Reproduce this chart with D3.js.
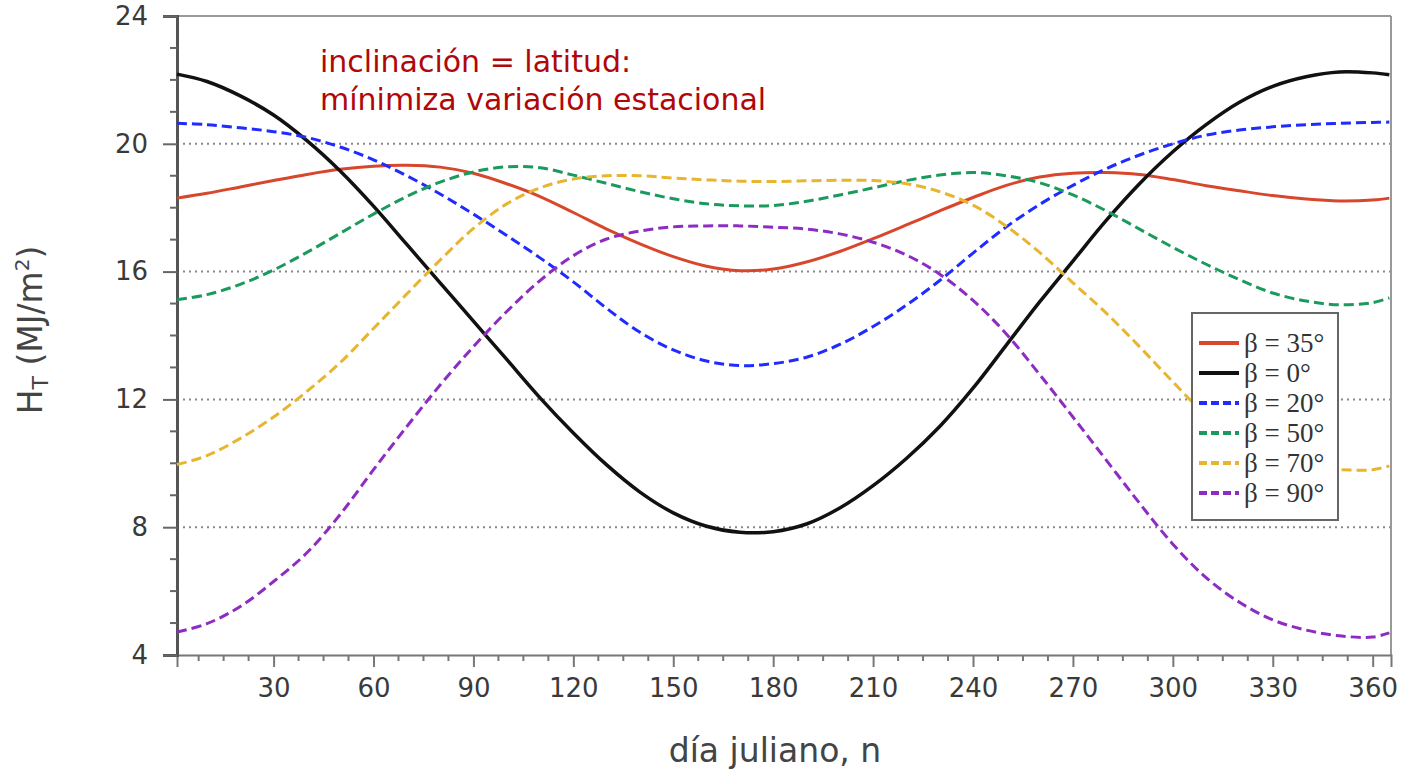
<!DOCTYPE html>
<html>
<head>
    <meta charset="utf-8">
    <title></title>
    <script src="https://d3js.org/d3.v7.min.js"></script>
    <style>
        body { margin: 0; background: #fff; }
        .tick-label { font-family: "DejaVu Sans", sans-serif; font-size: 26px; fill: #3a3a3a; }
        .axis-title { font-family: "DejaVu Sans", sans-serif; font-size: 33px; fill: #444; }
        .note { font-family: "DejaVu Sans", sans-serif; font-size: 30px; fill: #b00808; }
        .legend-text { font-family: "Liberation Serif", serif; font-size: 27px; fill: #333; }
    </style>
</head>
<body>
<div id="vis"></div>
<script>

    // día juliano
    var days = [1, 10, 20, 30, 40, 50, 60, 70, 80, 90, 100, 110, 120, 130, 140, 150, 160, 170, 180,
        190, 200, 210, 220, 230, 240, 250, 260, 270, 280, 290, 300, 310, 320, 330, 340, 350, 360, 365];

    // H_T (MJ/m2) per tilt
    var beta35 = [18.3, 18.45, 18.65, 18.85, 19.04, 19.2, 19.3, 19.33, 19.27, 19.08, 18.75, 18.35, 17.85,
        17.33, 16.87, 16.47, 16.17, 16.03, 16.08, 16.3, 16.63, 17.03, 17.46, 17.9, 18.32, 18.7, 18.96,
        19.08, 19.1, 19.04, 18.88, 18.69, 18.53, 18.38, 18.27, 18.21, 18.24, 18.3];
    var beta0 = [22.18, 21.95, 21.5, 20.9, 20.1, 19.15, 18.05, 16.85, 15.65, 14.45, 13.25, 12.05, 10.95,
        9.95, 9.1, 8.45, 8.03, 7.84, 7.86, 8.1, 8.6, 9.3, 10.15, 11.15, 12.35, 13.7, 15.05, 16.33, 17.6,
        18.75, 19.75, 20.6, 21.3, 21.8, 22.1, 22.25, 22.22, 22.16];
    var beta20 = [20.64, 20.6, 20.5, 20.38, 20.2, 19.9, 19.5, 19.0, 18.43, 17.8, 17.13, 16.43, 15.68,
        14.85, 14.1, 13.55, 13.2, 13.06, 13.12, 13.32, 13.72, 14.28, 14.95, 15.72, 16.58, 17.4, 18.1,
        18.7, 19.22, 19.65, 20.0, 20.27, 20.43, 20.53, 20.6, 20.64, 20.67, 20.68];
    var beta50 = [15.12, 15.28, 15.6, 16.05, 16.6, 17.2, 17.8, 18.35, 18.8, 19.12, 19.28, 19.25, 19.02,
        18.76, 18.5, 18.28, 18.12, 18.06, 18.07, 18.2, 18.4, 18.62, 18.85, 19.02, 19.1, 19.0, 18.78,
        18.4, 17.9, 17.33, 16.76, 16.23, 15.75, 15.33, 15.08, 14.96, 15.03, 15.18];
    var beta70 = [9.96, 10.24, 10.78, 11.45, 12.25, 13.15, 14.22, 15.3, 16.36, 17.35, 18.12, 18.62, 18.9,
        19.0, 19.0, 18.93, 18.87, 18.83, 18.82, 18.84, 18.86, 18.85, 18.75, 18.5, 18.08, 17.42, 16.6,
        15.65, 14.7, 13.65, 12.55, 11.5, 10.7, 10.15, 9.88, 9.8, 9.8, 9.92];
    var beta90 = [4.72, 4.98, 5.52, 6.3, 7.2, 8.4, 9.8, 11.15, 12.45, 13.65, 14.75, 15.72, 16.5,
        17.02, 17.27, 17.4, 17.43, 17.43, 17.39, 17.33, 17.18, 16.92, 16.52, 15.92, 15.1, 14.05, 12.78,
        11.45, 10.1, 8.75, 7.47, 6.42, 5.65, 5.1, 4.78, 4.6, 4.56, 4.69];

    var seriesNames = ["\u03B2 = 35\u00B0", "\u03B2 = 0\u00B0", "\u03B2 = 20\u00B0", "\u03B2 = 50\u00B0", "\u03B2 = 70\u00B0", "\u03B2 = 90\u00B0"];
    var seriesValues = [beta35, beta0, beta20, beta50, beta70, beta90];
    var seriesColors = ["#d8462b", "#111111", "#1f2bff", "#1a9a5c", "#e8b530", "#8d2cc2"];
    var seriesDashed = [false, false, true, true, true, true];

    var xTicks = [30, 60, 90, 120, 150, 180, 210, 240, 270, 300, 330, 360];
    var yTicks = [4, 8, 12, 16, 20, 24];
    var gridValues = [8, 12, 16, 20];

    var width = 1408, height = 769;
    var plotL = 177, plotR = 1391, plotT = 16, plotB = 655;

    var svg = d3.select("#vis").append("svg")
            .attr("width", width)
            .attr("height", height);

    var x = d3.scaleLinear().domain([1, 365.5]).range([plotL, plotR]);
    var y = d3.scaleLinear().domain([4, 24]).range([plotB, plotT]);

    // grid
    svg.append("g").selectAll("line").data(gridValues).enter().append("line")
            .attr("x1", plotL).attr("x2", plotR)
            .attr("y1", function(d){ return y(d); })
            .attr("y2", function(d){ return y(d); })
            .attr("stroke", "#888").attr("stroke-width", 2)
            .attr("stroke-dasharray", "2,4");

    // frame top / right
    svg.append("line").attr("x1", plotL - 14).attr("x2", plotR).attr("y1", plotT).attr("y2", plotT)
            .attr("stroke", "#999").attr("stroke-width", 2);
    svg.append("line").attr("x1", plotR).attr("x2", plotR).attr("y1", plotT).attr("y2", plotB)
            .attr("stroke", "#999").attr("stroke-width", 2);

    // x axis
    var xAxis = d3.axisBottom(x).tickValues(xTicks).tickSize(12).tickPadding(12);
    var gx = svg.append("g").attr("transform", "translate(0," + plotB + ")").call(xAxis);
    gx.select(".domain").attr("stroke", "#777").attr("stroke-width", 2);
    gx.selectAll(".tick line").attr("stroke", "#777").attr("stroke-width", 2);
    gx.selectAll(".tick text").attr("class", "tick-label").attr("fill", null);

    var xMinor = d3.range(7.5, 366, 7.5).filter(function(d){ return d % 30 !== 0; });
    gx.append("g").selectAll("line").data(xMinor).enter().append("line")
            .attr("x1", function(d){ return x(d); }).attr("x2", function(d){ return x(d); })
            .attr("y1", 0).attr("y2", 6)
            .attr("stroke", "#777").attr("stroke-width", 2);

    // y axis
    var yAxis = d3.axisLeft(y).tickValues(yTicks).tickSize(14).tickPadding(15);
    var gy = svg.append("g").attr("transform", "translate(" + plotL + ",0)").call(yAxis);
    gy.select(".domain").attr("stroke", "#555").attr("stroke-width", 3);
    gy.selectAll(".tick line").attr("stroke", "#666").attr("stroke-width", 2);
    gy.selectAll(".tick text").attr("class", "tick-label").attr("fill", null);

    var yMinor = d3.range(5, 24, 1).filter(function(d){ return d % 4 !== 0; });
    gy.append("g").selectAll("line").data(yMinor).enter().append("line")
            .attr("x1", -7).attr("x2", 0)
            .attr("y1", function(d){ return y(d); }).attr("y2", function(d){ return y(d); })
            .attr("stroke", "#666").attr("stroke-width", 2);

    // curves
    var line = d3.line()
            .x(function(d){ return x(d[0]); })
            .y(function(d){ return y(d[1]); })
            .curve(d3.curveCatmullRom.alpha(0.5));

    var curves = svg.append("g");
    seriesValues.forEach(function(vals, i){
        var pts = days.map(function(d, j){ return [d, vals[j]]; });
        curves.append("path")
                .attr("d", line(pts))
                .attr("fill", "none")
                .attr("stroke", seriesColors[i])
                .attr("stroke-width", i === 1 ? 3.5 : 3)
                .attr("stroke-dasharray", seriesDashed[i] ? "10,5" : null);
    });

    // annotation
    svg.append("text").attr("class", "note").attr("x", 320).attr("y", 72).text("inclinación = latitud:");
    svg.append("text").attr("class", "note").attr("x", 320).attr("y", 110).text("mínimiza variación estacional");

    // legend
    var legend = svg.append("g").attr("transform", "translate(1192,313)");
    legend.append("rect").attr("width", 146).attr("height", 207)
            .attr("fill", "#fff").attr("stroke", "#666").attr("stroke-width", 2);
    seriesNames.forEach(function(name, i){
        var ly = 30 + i * 30;
        legend.append("line").attr("x1", 7).attr("x2", 47).attr("y1", ly).attr("y2", ly)
                .attr("stroke", seriesColors[i]).attr("stroke-width", 4)
                .attr("stroke-dasharray", seriesDashed[i] ? "8,4" : null);
        legend.append("text").attr("class", "legend-text").attr("x", 52).attr("y", ly + 9).text(name);
    });

    // axis titles
    svg.append("text").attr("class", "axis-title").attr("x", 775).attr("y", 762)
            .attr("text-anchor", "middle").text("día juliano, n");

    var yt = svg.append("text").attr("class", "axis-title")
            .attr("transform", "translate(42,330) rotate(-90)")
            .attr("text-anchor", "middle");
    yt.append("tspan").text("H");
    yt.append("tspan").attr("font-size", "22px").attr("dy", 6).text("T");
    yt.append("tspan").attr("dy", -6).text(" (MJ/m");
    yt.append("tspan").attr("font-size", "20px").attr("dy", -13).text("2");
    yt.append("tspan").attr("dy", 13).text(")");

</script>
</body>
</html>
